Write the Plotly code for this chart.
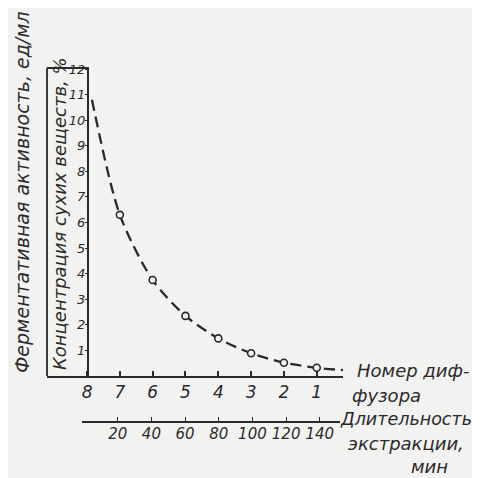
import plotly.graph_objects as go

# ---- data ----
diffuser_curve = [7.85, 7, 6, 5, 4, 3, 2, 1, 0.1]
conc_curve = [10.8, 6.3, 3.75, 2.35, 1.47, 0.89, 0.52, 0.32, 0.22]
diffuser_pts = [7, 6, 5, 4, 3, 2, 1]
conc_pts = [6.3, 3.75, 2.35, 1.47, 0.89, 0.52, 0.32]
diffuser_ticks = [8, 7, 6, 5, 4, 3, 2, 1]
minutes_ticks = [20, 40, 60, 80, 100, 120, 140]
y_ticks = [1, 2, 3, 4, 5, 6, 7, 8, 9, 10, 11, 12]

OFF = 8  # page body margin
W, H = 480, 478
L, R, T, B = 39, 145, 61, 38
PW, PH = W - L - R, H - T - B
INK = "#2a2a2a"
BG = "#f2f2f0"
FAM = "DejaVu Sans"


def px(x):
    return (x - OFF - L) / PW


def py(y):
    return (H - B - (y - OFF)) / PH


fig = go.Figure()
fig.add_trace(go.Scatter(
    x=diffuser_curve, y=conc_curve, mode="lines",
    line=dict(color=INK, width=2.3, dash="11px,6px", shape="spline", smoothing=0.8),
    hoverinfo="skip", showlegend=False))
fig.add_trace(go.Scatter(
    x=diffuser_pts, y=conc_pts, mode="markers",
    marker=dict(symbol="circle", size=7, color=BG, line=dict(color=INK, width=1.6)),
    showlegend=False))
# time axis trace (invisible) to carry the second x axis
fig.add_trace(go.Scatter(
    x=minutes_ticks, y=conc_pts, xaxis="x2", yaxis="y", mode="markers",
    marker=dict(size=1, opacity=0), hoverinfo="skip", showlegend=False))

tickfont = dict(family=FAM, size=17, color=INK, style="italic")

fig.update_layout(
    width=W, height=H,
    margin=dict(l=L, r=R, t=T, b=B),
    paper_bgcolor=BG, plot_bgcolor="rgba(0,0,0,0)",
    xaxis=dict(domain=[0, 1], range=[9.22, 0.2], anchor="y",
               showline=True, linecolor=INK, linewidth=2,
               ticks="inside", ticklen=5, tickwidth=1.5, tickcolor=INK,
               tickvals=diffuser_ticks, ticktext=[str(v) for v in diffuser_ticks],
               tickfont=tickfont, showgrid=False, zeroline=False),
    xaxis2=dict(domain=[px(82), px(340)], range=[-1.2, 152], anchor="free",
                position=py(422),
                showline=True, linecolor=INK, linewidth=1.5,
                ticks="inside", ticklen=4, tickwidth=1.3, tickcolor=INK,
                tickvals=minutes_ticks, ticktext=[str(v) for v in minutes_ticks],
                tickfont=dict(family=FAM, size=15, color=INK, style="italic"),
                ticklabelstandoff=-2,
                showgrid=False, zeroline=False),
    yaxis=dict(domain=[py(376), 1], range=[0, 12], anchor="free", position=px(88),
               showline=True, linecolor=INK, linewidth=2,
               ticks="outside", ticklen=2, tickwidth=1.2, tickcolor=INK,
               tickvals=y_ticks, ticktext=[str(v) for v in y_ticks],
               tickfont=dict(family=FAM, size=13, color=INK, style="italic"),
               ticklabelstandoff=-3,
               showgrid=False, zeroline=False),
)

shapes = [
    dict(type="line", xref="paper", yref="paper", x0=px(47), x1=px(47), y0=py(68), y1=py(376),
         line=dict(color=INK, width=1.8)),
    dict(type="line", xref="paper", yref="paper", x0=px(47), x1=px(89), y0=py(68), y1=py(68),
         line=dict(color=INK, width=1.8)),
]
fig.update_layout(shapes=shapes)

afont = dict(family=FAM, size=18, color=INK, style="italic")
ann = []


def text(t, x, y, xanchor="left", angle=0, size=18):
    f = dict(afont)
    f["size"] = size
    ann.append(dict(text=t, x=px(x), y=py(y), xref="paper", yref="paper",
                    xanchor=xanchor, yanchor="middle", showarrow=False,
                    textangle=angle, font=f))


text("Номер диф-", 355, 370)
text("фузора", 350, 395)
text("Длительность", 338, 419, size=17.5)
text("экстракции,", 346, 443)
text("мин", 409, 466)
text("Ферментативная активность, ед/мл", 22, 192, xanchor="center", angle=-90, size=19)
text("Концентрация сухих веществ, %", 60, 214, xanchor="center", angle=-90, size=18)
fig.update_layout(annotations=ann)

fig.write_html("out.html")
